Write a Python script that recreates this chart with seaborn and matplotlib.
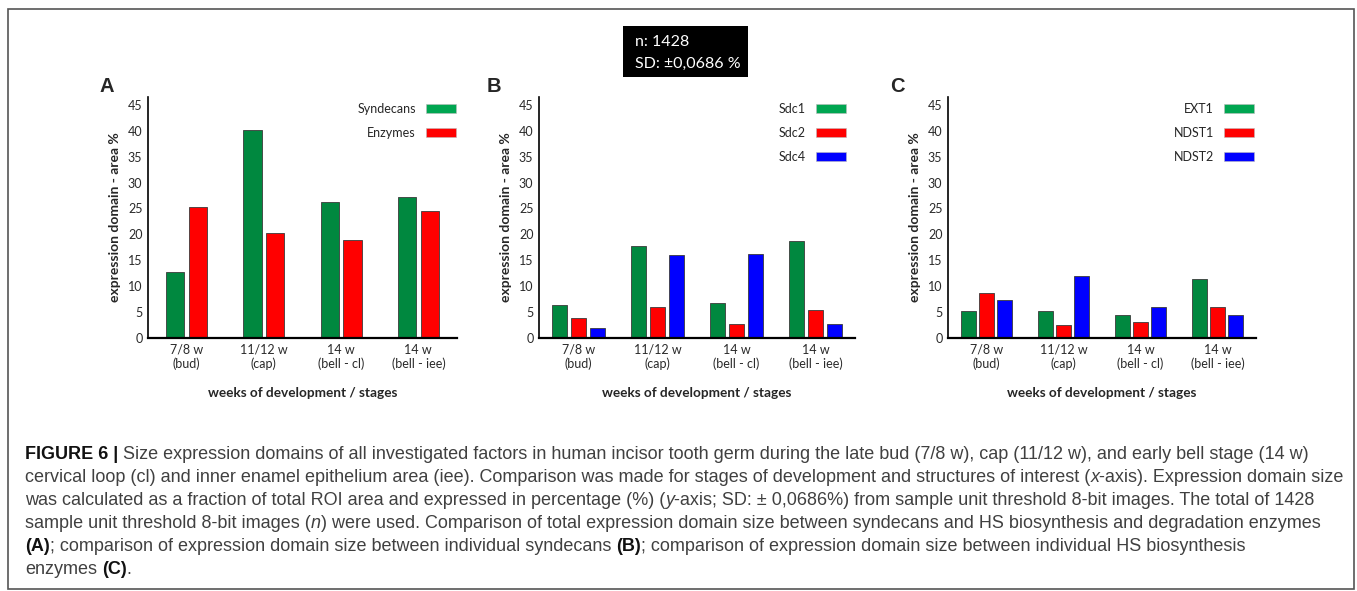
import numpy as np
import pandas as pd
import matplotlib
matplotlib.use("Agg")
import matplotlib.pyplot as plt
from matplotlib.patches import Patch, Rectangle
import seaborn as sns

sns.set_style("white")
plt.rcParams["font.family"] = ["Lato", "DejaVu Sans"]

# ---- data ----
stages = ["7/8 w\n(bud)", "11/12 w\n(cap)", "14 w\n(bell - cl)", "14 w\n(bell - iee)"]

a_series = ["Syndecans", "Enzymes"]
syndecans = [12.8, 40.1, 26.3, 27.3]
enzymes = [25.3, 20.2, 19.0, 24.6]

b_series = ["Sdc1", "Sdc2", "Sdc4"]
sdc1 = [6.3, 17.8, 6.7, 18.8]
sdc2 = [3.8, 6.0, 2.7, 5.4]
sdc4 = [2.0, 16.0, 16.2, 2.7]

c_series = ["EXT1", "NDST1", "NDST2"]
ext1 = [5.3, 5.3, 4.4, 11.3]
ndst1 = [8.7, 2.5, 3.0, 5.9]
ndst2 = [7.3, 12.0, 5.9, 4.5]

yticks = [0, 5, 10, 15, 20, 25, 30, 35, 40, 45]

bar_colors = ["#00883F", "#FF0000", "#0000FF"]
legend_colors = ["#00A651", "#FF0000", "#0000FF"]

W, H = 1357, 591
fig = plt.figure(figsize=(W / 100, H / 100), dpi=100)


def fx(px):
    return px / W


def fy(py):
    return 1 - py / H


def long_frame(names, values):
    rows = []
    for name, vals in zip(names, values):
        for st, v in zip(stages, vals):
            rows.append({"stage": st, "series": name, "value": v})
    return pd.DataFrame(rows)


def panel(left, right, names, values, width, gap, letter, leg_right):
    ax = fig.add_axes([fx(left), fy(338), fx(right - left), (338 - 97) / H])
    df = long_frame(names, values)
    sns.barplot(data=df, x="stage", y="value", hue="series", order=stages,
                hue_order=names, palette=bar_colors[:len(names)],
                width=width, gap=gap, edgecolor="#3a3a3a", linewidth=0.6,
                legend=False, errorbar=None, ax=ax, saturation=1)
    ax.set_xlim(-0.5, 3.5)
    ax.set_ylim(0, 46.5)
    ax.set_yticks(yticks)
    ax.tick_params(axis="both", length=0, labelsize=9, colors="#2a2a2a")
    ax.tick_params(axis="y", pad=4)
    ax.tick_params(axis="x", pad=4)
    for lab in ax.get_xticklabels():
        lab.set_linespacing(1.2)
    for s in ["top", "right"]:
        ax.spines[s].set_visible(False)
    ax.spines["left"].set_linewidth(1.2)
    ax.spines["bottom"].set_linewidth(1.6)
    ax.spines["left"].set_color("black")
    ax.spines["bottom"].set_color("black")
    ax.set_ylabel("expression domain - area %", fontsize=10,
                  fontweight="bold", labelpad=5)
    ax.set_xlabel("weeks of development / stages", fontsize=9.8,
                  fontweight="bold", labelpad=12)

    handles = [Patch(facecolor=c, edgecolor="#bbbbbb", linewidth=0.4)
               for c in legend_colors[:len(names)]]
    ax.legend(handles, names, loc="upper right",
              bbox_to_anchor=(fx(leg_right), fy(103)),
              bbox_transform=fig.transFigure, frameon=False,
              markerfirst=False, fontsize=9, handlelength=2.4,
              handleheight=0.75, labelspacing=0.95, handletextpad=0.8,
              borderpad=0, borderaxespad=0)
    fig.text(fx(letter[0]), fy(87), letter[1], fontsize=14.5,
             fontweight="bold", ha="left", va="center",
             family=["Liberation Sans", "DejaVu Sans"])
    return ax


panel(148, 457, a_series, [syndecans, enzymes], 0.587, 0.19,
      (99, "A"), 456)
panel(539, 855, b_series, [sdc1, sdc2, sdc4], 0.734, 0.22,
      (487, "B"), 846)
panel(948, 1256, c_series, [ext1, ndst1, ndst2], 0.688, 0.15,
      (890, "C"), 1254)

# outer frame
fig.patches.append(Rectangle((fx(8), fy(589)), fx(1354 - 8), (589 - 9) / H,
                             transform=fig.transFigure, fill=False,
                             edgecolor="#555555", linewidth=1.2))

# n / SD box
fig.patches.append(Rectangle((fx(623), fy(77)), fx(748 - 623), (77 - 26) / H,
                             transform=fig.transFigure, facecolor="black",
                             edgecolor="none"))
fig.text(fx(635), fy(42), "n: 1428", color="white", fontsize=11.5,
         va="center", ha="left")
fig.text(fx(635), fy(64), "SD: \u00b10,0686 %", color="white", fontsize=11.5,
         va="center", ha="left")

# caption with mixed styles
cap_family = ["Liberation Sans", "DejaVu Sans"]
cap_size = 12.95
cap_color = "#404040"
caption = [
    [("FIGURE 6 |", "b"), (" Size expression domains of all investigated factors in human incisor tooth germ during the late bud (7/8 w), cap (11/12 w), and early bell stage (14 w)", "r")],
    [("cervical loop (cl) and inner enamel epithelium area (iee). Comparison was made for stages of development and structures of interest (", "r"), ("x", "i"), ("-axis). Expression domain size", "r")],
    [("was calculated as a fraction of total ROI area and expressed in percentage (%) (", "r"), ("y", "i"), ("-axis; SD: \u00b1 0,0686%) from sample unit threshold 8-bit images. The total of 1428", "r")],
    [("sample unit threshold 8-bit images (", "r"), ("n", "i"), (") were used. Comparison of total expression domain size between syndecans and HS biosynthesis and degradation enzymes", "r")],
    [("(A)", "b"), ("; comparison of expression domain size between individual syndecans ", "r"), ("(B)", "b"), ("; comparison of expression domain size between individual HS biosynthesis", "r")],
    [("enzymes ", "r"), ("(C)", "b"), (".", "r")],
]

renderer = fig.canvas.get_renderer()


def style_kw(st):
    kw = dict(family=cap_family, fontsize=cap_size, color=cap_color)
    if st == "b":
        kw.update(fontweight="bold", color="#111111")
    if st == "i":
        kw.update(style="italic")
    return kw


def text_width(s, kw):
    t = fig.text(0, 0, s, **kw)
    w = t.get_window_extent(renderer).width
    t.remove()
    return w


def advance(s, kw):
    # width including leading / trailing spaces, measured between bars
    return text_width("|" + s + "|", kw) - text_width("||", kw)


for i, line in enumerate(caption):
    x = 25.0
    ybase = 459 + i * 23.1
    for txt, st in line:
        kw = style_kw(st)
        lead = txt[:len(txt) - len(txt.lstrip(" "))]
        body = txt.strip(" ")
        if lead:
            x += advance(lead, kw)
        if body:
            fig.text(fx(x), fy(ybase), body, ha="left", va="baseline", **kw)
        x += advance(txt.lstrip(" "), kw)

fig.savefig("out.png", dpi=100)
